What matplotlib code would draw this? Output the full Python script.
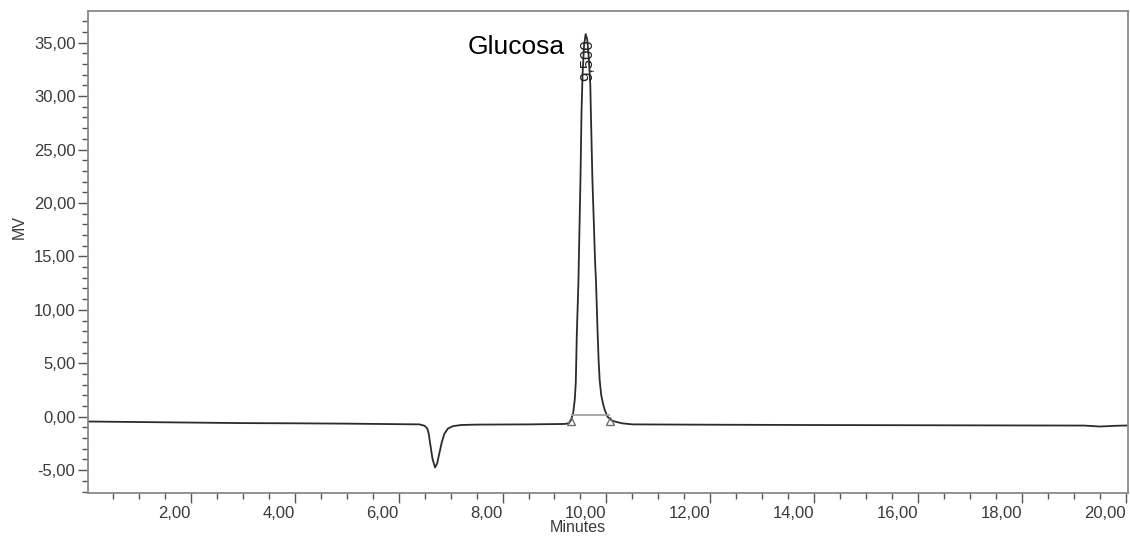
import matplotlib.pyplot as plt
from matplotlib.ticker import MultipleLocator, FuncFormatter

plt.rcParams['font.family'] = ['Liberation Sans', 'DejaVu Sans']

# Chromatogram trace (minutes, mV)
time_min = [0.02, 1.0, 2.0, 3.0, 4.0, 5.0, 6.0, 6.40, 6.50, 6.55, 6.58, 6.60,
            6.65, 6.70, 6.74, 6.78, 6.83, 6.88, 6.95, 7.05, 7.20, 7.50, 8.50,
            9.20, 9.28, 9.32, 9.36, 9.39, 9.41, 9.43, 9.46, 9.47, 9.50, 9.52,
            9.54, 9.57, 9.60, 9.63, 9.66, 9.69, 9.70, 9.73, 9.78, 9.80, 9.83,
            9.85, 9.87, 9.90, 9.94, 9.97, 10.02, 10.10, 10.16, 10.30, 10.50,
            12.0, 14.0, 16.0, 18.0, 19.2, 19.5, 19.8, 20.04]
signal_mv = [-0.45, -0.50, -0.55, -0.60, -0.62, -0.65, -0.70, -0.72, -0.85, -1.1,
             -1.6, -2.3, -3.9, -4.75, -4.4, -3.5, -2.4, -1.6, -1.1, -0.88, -0.78,
             -0.74, -0.72, -0.68, -0.60, -0.30, 0.35, 1.6, 3.2, 7.8, 12.5, 15.0,
             22.2, 28.5, 32.0, 34.8, 35.8, 35.3, 33.6, 31.0, 28.5, 22.2, 14.7,
             12.5, 7.85, 5.2, 3.4, 2.0, 1.1, 0.6, 0.0, -0.35, -0.45, -0.62, -0.72,
             -0.75, -0.78, -0.80, -0.82, -0.83, -0.92, -0.85, -0.82]

# Peak annotation and integration marks
peak_name = "Glucosa"
peak_rt_label = "9,500"
peak_label_pos = (9.64, 31.4)
integ_start = (9.32, -0.4)
integ_end = (10.06, -0.4)
integ_line_y = 0.12

fig = plt.figure(figsize=(11.3, 5.38), dpi=100)
ax = fig.add_axes([88 / 1130, 1 - 493 / 538, 1040 / 1130, 482 / 538])

ax.plot(time_min, signal_mv, color="#2b2b2b", linewidth=1.3)

# integration baseline and markers
ax.plot([integ_start[0] + 0.02, integ_end[0] - 0.02], [integ_line_y, integ_line_y],
        color="#a0a0a0", linewidth=1.3)
ax.plot([integ_start[0], integ_end[0]], [integ_start[1], integ_end[1]], linestyle="none",
        marker="^", markersize=6, markerfacecolor="none", markeredgecolor="#707070")

ax.text(peak_label_pos[0], peak_label_pos[1], peak_rt_label, rotation=90,
        ha="center", va="bottom", fontsize=12, color="#222222")
ax.text(9.20, 34.6, peak_name, ha="right", va="center", fontsize=19, color="black")

ax.set_xlim(0.02, 20.04)
ax.set_ylim(-7.14, 37.96)

fmt = FuncFormatter(lambda v, p: f"{v:.2f}".replace(".", ","))
ax.xaxis.set_major_locator(MultipleLocator(2))
ax.xaxis.set_minor_locator(MultipleLocator(0.5))
ax.yaxis.set_major_locator(MultipleLocator(5))
ax.yaxis.set_minor_locator(MultipleLocator(1))
ax.xaxis.set_major_formatter(fmt)
ax.yaxis.set_major_formatter(fmt)

ax.tick_params(axis="both", which="major", length=7, width=1, color="#555555",
               labelsize=12, labelcolor="#3a3a3a", pad=2)
ax.tick_params(axis="both", which="minor", length=4, width=1, color="#555555")
for lbl in ax.get_xticklabels():
    lbl.set_ha("right")

for s in ax.spines.values():
    s.set_color("#8a8a8a")
    s.set_linewidth(1.3)

fig.text(578 / 1130, 1 - 528 / 538, "Minutes", ha="center", va="center",
         fontsize=11.5, color="#3a3a3a")
fig.text(19 / 1130, 1 - 227 / 538, "MV", ha="center", va="center", rotation=90,
         fontsize=11.5, color="#3a3a3a")

fig.savefig("out.png", dpi=100)
